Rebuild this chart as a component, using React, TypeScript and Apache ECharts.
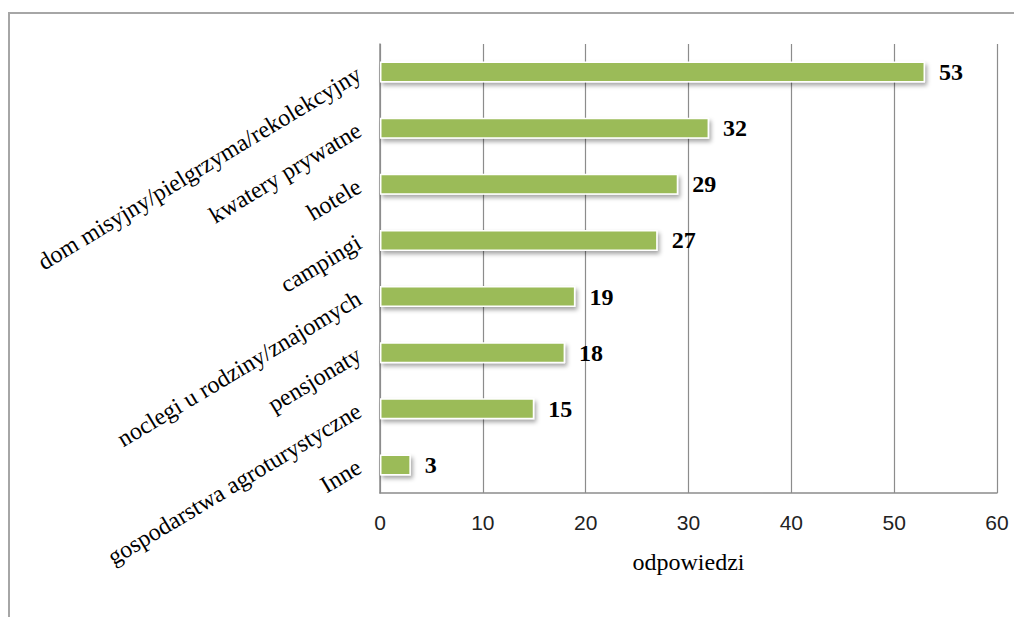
import React, { useEffect, useRef } from "react";
import * as echarts from "echarts";

const categories = [
  "dom misyjny/pielgrzyma/rekolekcyjny",
  "kwatery prywatne",
  "hotele",
  "campingi",
  "noclegi u rodziny/znajomych",
  "pensjonaty",
  "gospodarstwa agroturystyczne",
  "Inne",
];
const values = [53, 32, 29, 27, 19, 18, 15, 3];
const axisName = "odpowiedzi";

export default function App() {
  const ref = useRef<HTMLDivElement>(null);
  useEffect(() => {
    document.body.style.margin = "0";
    const chart = echarts.init(ref.current!, null, { renderer: "svg" });
    chart.setOption({
      animation: false,
      backgroundColor: "#ffffff",
      graphic: [
        {
          type: "rect",
          shape: { x: 9, y: 13, width: 1040, height: 640 },
          style: { fill: "none", stroke: "#a6a6a6", lineWidth: 2 },
          silent: true,
        },
      ],
      grid: { left: 380, right: 17, top: 44, bottom: 124 },
      xAxis: {
        type: "value",
        min: 0,
        max: 60,
        interval: 10,
        name: axisName,
        nameLocation: "middle",
        nameGap: 57,
        nameTextStyle: { fontFamily: "Liberation Serif", fontSize: 24, color: "#000" },
        axisLine: { show: true, lineStyle: { color: "#8c8c8c", width: 1.5 } },
        axisTick: { show: false },
        axisLabel: { margin: 19, fontFamily: "Liberation Sans", fontSize: 21, color: "#222" },
        splitLine: { show: true, lineStyle: { color: "#8c8c8c", width: 1.2 } },
      },
      yAxis: {
        type: "category",
        data: categories,
        inverse: true,
        axisLine: { show: true, lineStyle: { color: "#8c8c8c", width: 1.5 } },
        axisTick: { show: false },
        axisLabel: {
          rotate: 31,
          margin: 21,
          fontFamily: "Liberation Serif",
          fontSize: 24,
          color: "#000",
          interval: 0,
        },
        splitLine: { show: false },
      },
      series: [
        {
          type: "bar",
          data: values,
          barWidth: 21,
          itemStyle: {
            color: "#9bbb59",
            borderColor: "#ffffff",
            borderWidth: 1.5,
            shadowColor: "rgba(0,0,0,0.35)",
            shadowBlur: 4,
            shadowOffsetX: 2,
            shadowOffsetY: 3,
          },
          label: {
            show: true,
            position: "right",
            distance: 14,
            fontFamily: "Liberation Serif",
            fontWeight: "bold",
            fontSize: 24,
            color: "#000",
          },
        },
      ],
    });
    return () => chart.dispose();
  }, []);
  return <div ref={ref} style={{ width: 1014, height: 617 }} />;
}
